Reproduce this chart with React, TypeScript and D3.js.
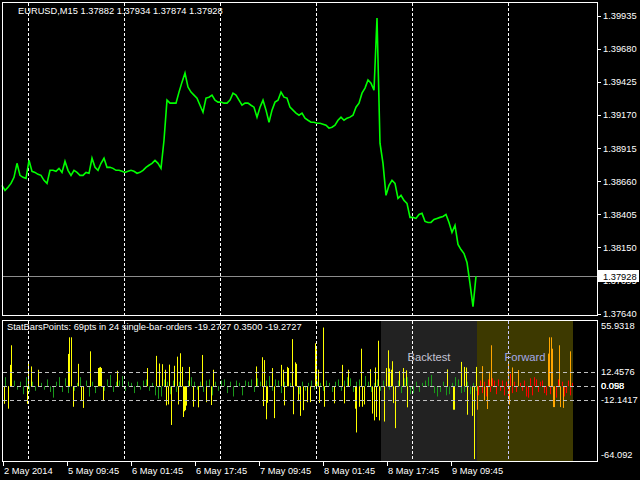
import React from 'react';
import * as d3 from 'd3';

const FONT = '"Liberation Sans", Arial, sans-serif';

const priceTitle = 'EURUSD,M15  1.37882 1.37934 1.37874 1.37928';
const indTitle = 'StatBarsPoints: 69pts in 24 single-bar-orders -19.2727 0.3500 -19.2727';

// close prices sampled every 3 bars (M15)
const closeStep = 3;
const closes = [
  1.38629, 1.38590, 1.38614, 1.38644, 1.38691, 1.38799, 1.38706, 1.38691, 1.38683, 1.38822,
  1.38737, 1.38729, 1.38714, 1.38706, 1.38668, 1.38644, 1.38745, 1.38745, 1.38737, 1.38760,
  1.38729, 1.38815, 1.38745, 1.38706, 1.38745, 1.38729, 1.38706, 1.38706, 1.38729, 1.38722,
  1.38838, 1.38768, 1.38745, 1.38799, 1.38838, 1.38768, 1.38768, 1.38760, 1.38745, 1.38745,
  1.38737, 1.38729, 1.38737, 1.38745, 1.38737, 1.38722, 1.38729, 1.38745, 1.38768, 1.38784,
  1.38799, 1.38822, 1.38799, 1.38760, 1.38977, 1.39286, 1.39263, 1.39263, 1.39263, 1.39348,
  1.39425, 1.39495, 1.39387, 1.39348, 1.39325, 1.39302, 1.39247, 1.39193, 1.39302, 1.39309,
  1.39325, 1.39286, 1.39271, 1.39271, 1.39263, 1.39263, 1.39286, 1.39340, 1.39325, 1.39286,
  1.39247, 1.39263, 1.39263, 1.39247, 1.39232, 1.39155, 1.39232, 1.39286, 1.39209, 1.39116,
  1.39209, 1.39271, 1.39286, 1.39348, 1.39309, 1.39302, 1.39232, 1.39209, 1.39186, 1.39170,
  1.39186, 1.39147, 1.39131, 1.39116, 1.39116, 1.39108, 1.39108, 1.39101, 1.39093, 1.39070,
  1.39077, 1.39093, 1.39131, 1.39155, 1.39131, 1.39147, 1.39155, 1.39170, 1.39232, 1.39263,
  1.39340, 1.39379, 1.39441, 1.39417, 1.39363, 1.39920, 1.38954, 1.38799, 1.38552, 1.38629,
  1.38668, 1.38644, 1.38528, 1.38552, 1.38513, 1.38490, 1.38382, 1.38382, 1.38374, 1.38405,
  1.38413, 1.38351, 1.38343, 1.38343, 1.38366, 1.38374, 1.38382, 1.38389, 1.38405, 1.38343,
  1.38266, 1.38320, 1.38173, 1.38134, 1.38103, 1.38034, 1.37871, 1.37694, 1.37928,
];
const lastClose = 1.37928;

const priceTicks = [1.39935, 1.3968, 1.39425, 1.3917, 1.38915, 1.3866, 1.38405, 1.3815, 1.37895, 1.3764];

const timeLabels = ['2 May 2014', '5 May 09:45', '6 May 01:45', '6 May 17:45', '7 May 09:45', '8 May 01:45', '8 May 17:45', '9 May 09:45'];
const timeLabelBars = [1, 65, 129, 193, 257, 321, 385, 449];
const dayGridBars = [26, 122, 218, 314, 410, 506];

// indicator: large single-bar values [bar, points]
const spikes: [number, number][] = [
  [2, -15.4], [6, -19.7], [8, 18.8], [9, 36], [25, -15.4], [26, 21], [29, 17.4], [36, 14.5],
  [66, 28.4], [67, 43], [69, 43], [71, -18], [76, 19.7], [79, -12.5], [81, -19], [88, 30.7],
  [96, 16], [97, 16.5], [98, 17], [99, 16], [101, -13], [115, 13.6], [145, 16], [154, 26.7],
  [157, 20], [160, 19.4], [163, 14.5], [164, -16.8], [166, -16], [167, 19], [169, -34], [172, 18],
  [175, 26], [176, -16], [178, 29], [180, 17], [181, -27], [182, -22], [183, -21], [184, -17],
  [187, 17], [191, -18], [196, -18.5], [200, 27.5], [204, -14], [209, -16.5], [211, 14.5],
  [254, 17.4], [260, 25.5], [261, -17.4], [262, 23], [264, -29], [265, -14.5], [270, 16], [272, -28],
  [279, 18.8], [281, 14.5], [282, -16.8], [285, 17], [286, 16], [290, 41.4], [291, -24.6], [293, 21],
  [294, 19.7], [296, -13], [298, -26], [301, -21], [305, -14], [308, -14], [313, 37.7], [314, 32.5],
  [316, 14.5], [317, -14.5], [321, 51.6], [322, -18], [332, -15], [340, 18.8], [342, -15], [346, 14.5],
  [353, -19.7], [354, -40.6], [357, -18], [359, 33], [360, -18], [362, -16], [368, 15], [370, -24],
  [372, -30], [373, 16.5], [374, -27], [376, 40], [377, -30], [382, -31], [384, 16], [386, 31.6],
  [387, 15.6], [389, 14.5], [390, 22], [391, -14.8], [393, -36.8], [397, 13.3], [401, 16], [404, 14],
  [405, -18.5], [445, 14.8], [451, -20.6], [452, -20.6], [459, 21.4], [462, 17], [464, 16.5], [465, -25],
  [470, -26], [472, -64], [474, 17],
  [475, -20.6], [480, 17.7], [482, -12.5], [485, -20], [487, 12.8], [489, 36], [506, 21.4], [507, -16],
  [510, 16.5], [516, 14.2], [546, 28.7], [547, 43], [549, 43], [550, 33], [551, -18.3], [552, -18.3],
  [557, 36], [558, -18.3], [561, -19], [568, 30.7],
];

// indicator: small values every 3 bars (history + backtest)
const smallStep = 3;
const smallVals = [
  3, 8, -4, 6, 5, -3, 4, -7, 8, -5, 4, -4, 5, 3, -3, 6, -5, -10, 4, 8,
  -5, 7, -6, 5, -4, 3, 8, -5, 5, -9, 4, -6, 3, 5, -4, 6, 10, -5, 4, 5,
  9, -4, 4, 3, -6, 4, -3, 5, 6, -4, 3, -8, -11, -9, 6, 4, -7, 5, -5, 4,
  6, -4, 5, 8, 4, -3, 4, -5, 5, 6, -8, 4, -4, 5, 6, -6, 4, -9, 5, 3,
  -8, 5, 4, 6, -5, 7, 4, -7, 5, 9, -4, 6, 5, -6, 4, 7, 3, -5, 5, -7,
  4, -4, 3, 5, -3, 4, 3, -4, 5, 3, -5, 4, 6, -4, 5, 8, 7, -5, 4, 6,
  -6, 9, 4, -5, 3, 6, -4, 5, 3, -3, 4, -5, 5, -6, 7, 8, -7, -6, 4, -5,
  3, 5, 8, 10, -6, -9, -5, 4, -8, -7, 3, 8, 6, -6, -5, 4, -7, 3, -4,
];

// indicator: small values every 2 bars (forward)
const fwdStart = 476;
const fwdStep = 2;
const fwdVals = [
  -8, 5, -6, 4, -9, 6, -5, 7, 5, -7, 6, -4, 5, -8, 4, -10, 11, -6, 4, -5,
  6, 3, -4, 5, -9, -10, 7, -8, 8, 6, -5, 4, 5, -6, -8, 4, -7, 5, -9, -10,
  6, -8, 4, -9, -6, 5, -8, 3,
];

const backtestBars = [379, 475];
const forwardBars = [475, 571];
const levels = [12.4576, 0.098, 0.058, -12.1417];
const indTicks = [55.9318, 12.4576, 0.058, 0.098, -12.1417, -64.092];
const threshold = 12.1417;

export default function App() {
  const x = d3.scaleLinear().domain([0, 595]).range([2, 597]);
  const yP = d3.scaleLinear().domain([1.3764, 1.39935]).range([313.6, 16]);
  const yI = d3.scaleLinear().domain([-64.092, 55.9318]).range([459.2, 322.6]);

  const line = d3
    .line<number>()
    .x((_, i) => x(i * closeStep))
    .y((d) => yP(d));

  const y0 = yI(0);
  const green = '#1a9a1a';
  type Bar = { b: number; v: number; color: string };
  const bars: Bar[] = [];
  smallVals.forEach((v, i) => bars.push({ b: i * smallStep, v, color: green }));
  fwdVals.forEach((v, i) => bars.push({ b: fwdStart + i * fwdStep, v, color: '#ff0000' }));
  spikes.forEach(([b, v]) => {
    const fwd = b >= forwardBars[0];
    const big = Math.abs(v) >= threshold;
    bars.push({ b, v, color: fwd ? (big ? '#ffa500' : '#ff0000') : big ? '#ffff00' : green });
  });

  const textStyle = { fontFamily: FONT, fontSize: 9.3 } as React.CSSProperties;

  return (
    <svg width={640} height={480} style={{ position: 'absolute', left: 0, top: 0, background: '#000' }}>
      <rect x={0} y={0} width={640} height={480} fill="#000" />

      {/* ---------- main price window ---------- */}
      {dayGridBars.map((b) => (
        <line key={'gm' + b} x1={x(b) + 0.5} x2={x(b) + 0.5} y1={3} y2={315} stroke="#fff" strokeDasharray="3,2" />
      ))}
      <line x1={2} x2={597} y1={Math.round(yP(lastClose)) + 0.5} y2={Math.round(yP(lastClose)) + 0.5} stroke="#8c8c8c" />
      <path d={line(closes) || ''} fill="none" stroke="#00ff00" strokeWidth={1.6} strokeLinejoin="miter" />
      <rect x={2.5} y={2.5} width={595} height={313} fill="none" stroke="#fff" />
      <text x={18} y={11} dy="0.35em" fill="#fff" style={textStyle}>{priceTitle}</text>

      {priceTicks.map((p) => (
        <g key={'pt' + p}>
          <line x1={597} x2={601} y1={Math.round(yP(p)) + 0.5} y2={Math.round(yP(p)) + 0.5} stroke="#fff" />
          <text x={603} y={yP(p)} dy="0.35em" fill="#fff" style={textStyle}>{p.toFixed(5)}</text>
        </g>
      ))}
      <rect x={598} y={Math.round(yP(lastClose)) - 6} width={41} height={12} fill="#fff" />
      <text x={603} y={yP(lastClose)} dy="0.35em" fill="#000" style={textStyle}>{lastClose.toFixed(5)}</text>

      {/* ---------- indicator window ---------- */}
      <rect x={x(backtestBars[0])} y={321} width={x(backtestBars[1]) - x(backtestBars[0])} height={140} fill="#222222" />
      <rect x={x(forwardBars[0])} y={321} width={x(forwardBars[1]) - x(forwardBars[0])} height={140} fill="#3d3900" />

      {bars.map((d, i) => (
        <rect
          key={'b' + i}
          x={x(d.b)}
          width={1}
          y={Math.min(yI(d.v), y0)}
          height={Math.max(1, Math.abs(yI(d.v) - y0))}
          fill={d.color}
        />
      ))}

      {levels.map((l) => (
        <line key={'lv' + l} x1={3} x2={597} y1={Math.round(yI(l)) + 0.5} y2={Math.round(yI(l)) + 0.5} stroke="#c0c0c0" strokeDasharray="4,3" />
      ))}
      {dayGridBars.map((b) => (
        <line
          key={'gi' + b}
          x1={x(b) + 0.5}
          x2={x(b) + 0.5}
          y1={321}
          y2={461}
          stroke={b >= forwardBars[0] ? '#c8c8ff' : '#fff'}
          strokeDasharray="3,2"
        />
      ))}
      <rect x={2.5} y={320.5} width={595} height={141} fill="none" stroke="#fff" />

      <text x={7} y={327} dy="0.35em" fill="#fff" style={textStyle}>{indTitle}</text>
      <text x={(x(backtestBars[0]) + x(backtestBars[1])) / 2} y={357} dy="0.35em" textAnchor="middle" fill="#c4c4d4" style={{ fontFamily: FONT, fontSize: 11.2 }}>Backtest</text>
      <text x={(x(forwardBars[0]) + x(forwardBars[1])) / 2} y={357} dy="0.35em" textAnchor="middle" fill="#a4aae8" style={{ fontFamily: FONT, fontSize: 11.2 }}>Forward</text>

      {indTicks.map((v) => {
        const yy = Math.max(326, Math.min(455, yI(v)));
        return (
          <text key={'it' + v} x={601} y={yy} dy="0.35em" fill="#fff" style={textStyle}>
            {String(v)}
          </text>
        );
      })}

      {/* ---------- time axis ---------- */}
      {timeLabelBars.map((b, i) => (
        <g key={'tl' + b}>
          <line x1={x(b) + 0.5} x2={x(b) + 0.5} y1={462} y2={466} stroke="#fff" />
          <text x={x(b) + 1} y={471} dy="0.35em" fill="#fff" style={textStyle}>{timeLabels[i]}</text>
        </g>
      ))}
    </svg>
  );
}
